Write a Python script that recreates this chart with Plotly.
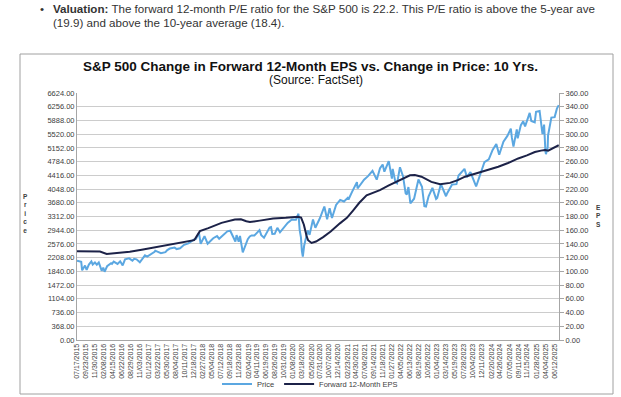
import plotly.graph_objects as go
import pandas as pd

# ---------------- data ----------------
tick_labels = [
    "07/17/2015", "09/23/2015", "11/30/2015", "02/08/2016", "04/15/2016", "06/22/2016",
    "08/29/2016", "11/03/2016", "01/12/2017", "03/22/2017", "05/30/2017", "08/04/2017",
    "10/11/2017", "12/18/2017", "02/27/2018", "05/04/2018", "07/12/2018", "09/18/2018",
    "11/23/2018", "02/04/2019", "04/11/2019", "06/19/2019", "08/26/2019", "10/31/2019",
    "01/08/2020", "03/18/2020", "05/26/2020", "07/31/2020", "10/07/2020", "12/14/2020",
    "02/23/2021", "04/30/2021", "07/08/2021", "09/14/2021", "11/18/2021", "01/27/2022",
    "04/05/2022", "06/13/2022", "08/19/2022", "10/26/2022", "01/04/2023", "03/14/2023",
    "05/19/2023", "07/28/2023", "10/04/2023", "12/11/2023", "02/20/2024", "04/26/2024",
    "07/05/2024", "09/11/2024", "11/15/2024", "01/28/2025", "04/04/2025", "06/12/2025",
]

price_dates = [
    "2015-07-17", "2015-07-31", "2015-08-18", "2015-08-25", "2015-09-16", "2015-09-28",
    "2015-10-15", "2015-11-03", "2015-11-13", "2015-11-30", "2015-12-14", "2015-12-29",
    "2016-01-20", "2016-02-01", "2016-02-11", "2016-03-01", "2016-03-31", "2016-04-07",
    "2016-04-20", "2016-05-19", "2016-06-08", "2016-06-27", "2016-07-15", "2016-08-15",
    "2016-09-09", "2016-09-22", "2016-10-10", "2016-11-04", "2016-11-30", "2016-12-13",
    "2016-12-30", "2017-01-26", "2017-02-24", "2017-03-01", "2017-04-13", "2017-05-17",
    "2017-05-31", "2017-06-19", "2017-07-26", "2017-08-10", "2017-08-31", "2017-09-05",
    "2017-10-05", "2017-11-07", "2017-12-18", "2018-01-03", "2018-01-26", "2018-02-08",
    "2018-03-09", "2018-03-22", "2018-04-02", "2018-05-14", "2018-06-12", "2018-06-28",
    "2018-07-31", "2018-08-29", "2018-09-20", "2018-10-10", "2018-10-29", "2018-11-07",
    "2018-11-23", "2018-12-03", "2018-12-24", "2019-01-31", "2019-02-15", "2019-03-01",
    "2019-03-22", "2019-04-30", "2019-05-13", "2019-06-03", "2019-07-15", "2019-07-26",
    "2019-08-05", "2019-08-23", "2019-09-12", "2019-10-02", "2019-11-29", "2019-12-31",
    "2020-01-31", "2020-02-19", "2020-02-28", "2020-03-09", "2020-03-12", "2020-03-16",
    "2020-03-23", "2020-04-02", "2020-04-29", "2020-05-13", "2020-06-08", "2020-06-26",
    "2020-07-31", "2020-09-02", "2020-09-23", "2020-10-12", "2020-10-30", "2020-11-30",
    "2020-12-31", "2021-01-29", "2021-02-26", "2021-03-04", "2021-03-31", "2021-05-07",
    "2021-05-12", "2021-06-30", "2021-07-30", "2021-08-16", "2021-09-02", "2021-10-04",
    "2021-10-29", "2021-11-18", "2021-12-01", "2022-01-03", "2022-01-27", "2022-02-02",
    "2022-02-23", "2022-03-07", "2022-03-29", "2022-04-21", "2022-05-11", "2022-05-20",
    "2022-06-01", "2022-06-16", "2022-07-14", "2022-08-16", "2022-09-12", "2022-09-30",
    "2022-10-12", "2022-11-01", "2022-11-30", "2022-12-28", "2023-01-05", "2023-02-02",
    "2023-03-13", "2023-03-22", "2023-04-28", "2023-05-31", "2023-06-16", "2023-07-31",
    "2023-08-18", "2023-09-14", "2023-10-27", "2023-12-29", "2024-01-31", "2024-02-29",
    "2024-03-28", "2024-04-19", "2024-05-21", "2024-06-20", "2024-07-16", "2024-07-24",
    "2024-08-05", "2024-08-30", "2024-09-06", "2024-09-30", "2024-10-18", "2024-11-01",
    "2024-12-06", "2024-12-18", "2025-01-13", "2025-01-23", "2025-02-19", "2025-03-13",
    "2025-03-25", "2025-04-04", "2025-04-08", "2025-04-21", "2025-04-24", "2025-05-19",
    "2025-06-13", "2025-06-30", "2025-07-14",
]
price_values = [
    2126, 2104, 2097, 1868, 1996, 1882,
    2024, 2109, 2023, 2080, 2021, 2078,
    1859, 1940, 1829, 1978, 2060, 2041,
    2102, 2040, 2112, 2001, 2162, 2190,
    2128, 2177, 2163, 2085, 2199, 2271,
    2239, 2297, 2367, 2396, 2329, 2357,
    2412, 2453, 2477, 2438, 2472, 2458,
    2552, 2591, 2690, 2713, 2873, 2581,
    2786, 2643, 2582, 2730, 2787, 2716,
    2816, 2914, 2931, 2786, 2641, 2814,
    2633, 2790, 2351, 2704, 2776, 2803,
    2801, 2946, 2812, 2744, 3014, 3026,
    2845, 2847, 3009, 2888, 3141, 3231,
    3226, 3386, 2954, 2747, 2481, 2386,
    2237, 2527, 2940, 2820, 3232, 3009,
    3271, 3580, 3237, 3535, 3270, 3622,
    3756, 3714, 3811, 3768, 3973, 4233,
    4063, 4298, 4395, 4479, 4537, 4300,
    4605, 4704, 4513, 4797, 4326, 4589,
    4226, 4201, 4632, 4393, 3935, 3901,
    4101, 3667, 3790, 4305, 4110, 3586,
    3577, 3856, 4080, 3783, 3808, 4179,
    3855, 3937, 4169, 4180, 4409, 4589,
    4370, 4505, 4117, 4770, 4846, 5096,
    5254, 4967, 5321, 5473, 5667, 5427,
    5186, 5648, 5408, 5762, 5865, 5729,
    6090, 5872, 5836, 6119, 6144, 5522,
    5776, 5074, 4983, 5158, 5485, 5964,
    5977, 6205, 6297,
]

eps_dates = [
    "2015-07-17", "2015-10-15", "2016-01-07", "2016-02-27", "2016-05-25", "2016-08-20",
    "2016-11-18", "2017-02-15", "2017-05-14", "2017-08-10", "2017-10-13", "2017-12-20",
    "2017-12-29", "2018-01-12", "2018-02-02", "2018-04-07", "2018-07-16", "2018-10-25",
    "2018-12-10", "2019-01-20", "2019-02-16", "2019-05-02", "2019-08-11", "2019-11-15",
    "2020-02-16", "2020-03-10", "2020-03-31", "2020-04-20", "2020-05-02", "2020-05-28",
    "2020-07-01", "2020-08-24", "2020-10-20", "2020-12-29", "2021-02-20", "2021-04-09",
    "2021-05-25", "2021-07-19", "2021-09-10", "2021-10-28", "2021-12-31", "2022-03-02",
    "2022-05-29", "2022-06-13", "2022-07-20", "2022-09-08", "2022-11-22", "2023-01-27",
    "2023-04-12", "2023-06-10", "2023-08-04", "2023-11-13", "2024-01-20", "2024-04-12",
    "2024-06-25", "2024-09-10", "2024-11-15", "2025-01-14", "2025-03-01", "2025-04-01",
    "2025-04-25", "2025-05-25", "2025-07-14",
]
eps_values = [
    129.5, 129.5, 129.0, 125.5, 126.5, 128.5,
    131.5, 134.5, 137.8, 140.0, 142.6, 145.5,
    148.0, 153.0, 158.6, 163.0, 170.7, 175.5,
    176.0, 173.0, 172.0, 174.0, 177.0, 178.0,
    179.5, 178.5, 168.0, 152.0, 145.4, 141.5,
    143.5, 150.0, 158.0, 170.0, 178.0, 189.0,
    200.0, 211.0, 215.0, 218.4, 225.0, 230.5,
    238.0, 240.0, 240.5, 238.0, 230.5, 227.0,
    229.0, 233.0, 238.0, 244.0, 247.0, 252.5,
    258.0, 264.6, 269.0, 274.0, 276.0, 277.0,
    276.0, 279.0, 284.0,
]

price_axis_max = 6624
price_axis_step = 368
eps_axis_max = 360
eps_axis_step = 20

# ---------------- layout helpers (pixel -> paper) ----------------
W, H = 621, 397
L, R, T, B = 77, 559, 93, 340


def px(x):
    return (x - L) / (R - L)


def py(y):
    return (B - y) / (B - T)


FONT = "Liberation Sans, Arial, sans-serif"
TXT = "#404040"

tick_vals = pd.to_datetime(tick_labels, format="%m/%d/%Y")

fig = go.Figure()
fig.add_trace(go.Scatter(
    x=pd.to_datetime(price_dates), y=price_values, name="Price",
    mode="lines", line=dict(color="#5BA7E1", width=2), yaxis="y",
))
fig.add_trace(go.Scatter(
    x=pd.to_datetime(eps_dates), y=eps_values, name="Forward 12-Month EPS",
    mode="lines", line=dict(color="#1C2248", width=2), yaxis="y2",
))

fig.update_layout(
    width=W, height=H,
    margin=dict(l=L, r=W - R, t=T, b=H - B, pad=0, autoexpand=False),
    paper_bgcolor="white", plot_bgcolor="white",
    font=dict(family=FONT, color=TXT, size=7),
    showlegend=True,
    legend=dict(orientation="h", x=px(310), y=py(384), xanchor="center", yanchor="middle",
                font=dict(size=7.5, color=TXT), bgcolor="rgba(0,0,0,0)",
                itemwidth=30, tracegroupgap=0),
    xaxis=dict(
        type="date",
        range=[pd.Timestamp("2015-07-17"), pd.Timestamp("2025-07-16")],
        tickmode="array", tickvals=tick_vals, ticktext=tick_labels,
        tickangle=-90, tickfont=dict(size=7, color=TXT),
        showgrid=False, showline=True, linecolor="#a6a6a6", linewidth=1,
        ticks="", zeroline=False, automargin=False,
    ),
    yaxis=dict(
        range=[0, price_axis_max], dtick=price_axis_step, tick0=0,
        tickformat=".2f", tickfont=dict(size=7.5, color=TXT),
        showgrid=True, gridcolor="#cccccc", gridwidth=1,
        showline=True, linecolor="#a6a6a6", linewidth=1,
        ticks="", zeroline=False, automargin=False,
    ),
    yaxis2=dict(
        range=[0, eps_axis_max], dtick=eps_axis_step, tick0=0,
        overlaying="y", side="right",
        tickformat=".2f", tickfont=dict(size=7.5, color=TXT),
        showgrid=False, showline=True, linecolor="#a6a6a6", linewidth=1,
        ticks="outside", ticklen=4, tickcolor="#a6a6a6",
        zeroline=False, automargin=False,
    ),
)

# chart frame
fig.add_shape(type="rect", xref="paper", yref="paper",
              x0=px(20), x1=px(613), y0=py(394), y1=py(54),
              line=dict(color="#a0a0a0", width=1), fillcolor="rgba(0,0,0,0)", layer="below")

ann = []
# bullet text above the chart (the source crop cuts the first line at the right edge)
ann.append(dict(text="•", x=px(38), y=py(8), xanchor="left", yanchor="middle",
                font=dict(size=11.6, color="#333333")))
ann.append(dict(text="<b>Valuation:</b> The forward 12-month P/E ratio for the S&P 500 is 22.2. "
                     "This P/E ratio is above the 5-year ave",
                x=px(51), y=py(8), xanchor="left", yanchor="middle",
                font=dict(size=11.6, color="#333333")))
ann.append(dict(text="(19.9) and above the 10-year average (18.4).",
                x=px(51), y=py(22), xanchor="left", yanchor="middle",
                font=dict(size=11.6, color="#333333")))
# titles
ann.append(dict(text="<b>S&P 500 Change in Forward 12-Month EPS vs. Change in Price: 10 Yrs.</b>",
                x=px(310), y=py(67), xanchor="center", yanchor="middle",
                font=dict(size=13.5, color="#111111")))
ann.append(dict(text="(Source: FactSet)",
                x=px(316), y=py(80), xanchor="center", yanchor="middle",
                font=dict(size=12, color="#111111")))
# stacked axis titles
ann.append(dict(text="<b>P<br>r<br>i<br>c<br>e</b>", x=px(25), y=py(213),
                xanchor="center", yanchor="middle", font=dict(size=6.5, color=TXT)))
ann.append(dict(text="<b>E<br>P<br>S</b>", x=px(598), y=py(216),
                xanchor="center", yanchor="middle", font=dict(size=6.5, color=TXT)))

for a in ann:
    a.update(xref="paper", yref="paper", showarrow=False)
fig.update_layout(annotations=ann)

fig.write_html("out.html",
               config={"displayModeBar": False},
               post_script="document.body.style.margin='0';document.body.style.overflow='hidden';")
